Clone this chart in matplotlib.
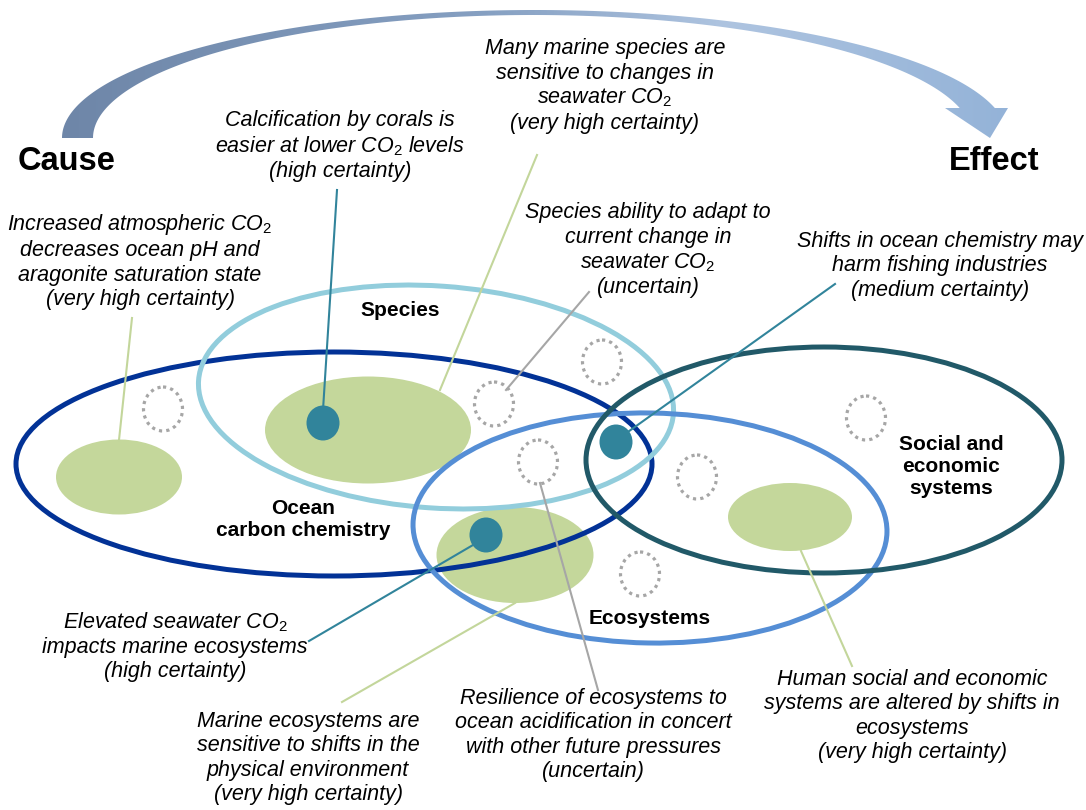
import numpy as np
import matplotlib.pyplot as plt
from matplotlib.patches import Ellipse, Polygon
from matplotlib.colors import LinearSegmentedColormap

plt.rcParams['font.family'] = ['Liberation Sans', 'DejaVu Sans']
plt.rcParams['mathtext.fontset'] = 'custom'
plt.rcParams['mathtext.rm'] = 'Liberation Sans'
plt.rcParams['mathtext.it'] = 'Liberation Sans:italic'

# domains (big outlined ellipses)
domain_names = ['Ocean\ncarbon chemistry', 'Species', 'Ecosystems',
                'Social and\neconomic\nsystems']
domain_xy = [(334, 464), (436, 397), (650, 528), (824, 460)]
domain_w = [636, 476, 474, 476]
domain_h = [224, 222, 230, 226]
domain_ang = [0, 4, 1, 0]
domain_col = ['#023296', '#92cddc', '#558ed5', '#215968']
label_xy = [(303, 520), (400, 311), (650, 618), (951, 466)]

# green "effect" blobs
blob_xy = [(119, 477), (368, 430), (515, 555), (790, 517)]
blob_w = [126, 206, 157, 124]
blob_h = [75, 107, 96, 68]

# teal dots (medium / high certainty hubs)
dot_xy = [(323, 423), (486, 535), (616, 442)]

# dotted circles (uncertain)
open_xy = [(163, 409), (494, 404), (602, 362), (538, 462), (697, 477),
           (640, 574), (866, 418)]

# annotations
notes = [
    'Many marine species are\nsensitive to changes in\nseawater CO$_2$\n(very high certainty)',
    'Calcification by corals is\neasier at lower CO$_2$ levels\n(high certainty)',
    'Increased atmospheric CO$_2$\ndecreases ocean pH and\naragonite saturation state\n(very high certainty)',
    'Species ability to adapt to\ncurrent change in\nseawater CO$_2$\n(uncertain)',
    'Shifts in ocean chemistry may\nharm fishing industries\n(medium certainty)',
    'Elevated seawater CO$_2$\nimpacts marine ecosystems\n(high certainty)',
    'Marine ecosystems are\nsensitive to shifts in the\nphysical environment\n(very high certainty)',
    'Resilience of ecosystems to\nocean acidification in concert\nwith other future pressures\n(uncertain)',
    'Human social and economic\nsystems are altered by shifts in\necosystems\n(very high certainty)',
]
note_xy = [(605, 86), (340, 146), (140, 261), (648, 250), (940, 266),
           (175, 646), (308, 758), (593, 735), (912, 716)]

# leader lines: start, end, colour
leaders = [
    ((119, 440), (132, 318), '#c3d69b'),
    ((323, 410), (337, 190), '#31849b'),
    ((440, 390), (537, 155), '#c3d69b'),
    ((506, 390), (589, 292), '#a6a6a6'),
    ((625, 434), (835, 284), '#31849b'),
    ((473, 545), (309, 641), '#31849b'),
    ((515, 603), (342, 702), '#c3d69b'),
    ((540, 483), (598, 690), '#a6a6a6'),
    ((801, 551), (852, 666), '#c3d69b'),
]

fig = plt.figure(figsize=(10.86, 8.10), dpi=100)
ax = fig.add_axes([0, 0, 1, 1])

# curved cause -> effect arrow
th_o = np.radians(np.linspace(180, np.degrees(np.arcsin(30 / 128)), 200))
outer = np.column_stack([535 + 473 * np.cos(th_o), 138 - 128 * np.sin(th_o)])
th_i = np.radians(np.linspace(np.degrees(np.arcsin(30 / 123)), 180, 200))
inner = np.column_stack([533 + 440 * np.cos(th_i), 138 - 123 * np.sin(th_i)])
head = np.array([[1008, 108], [990, 138], [945, 108]])
arrow = Polygon(np.vstack([outer, head, inner]), closed=True,
                facecolor='none', edgecolor='none')
ax.add_patch(arrow)
cmap = LinearSegmentedColormap.from_list(
    'arr', [(0, '#6e86a8'), (0.45, '#86a0c2'), (0.7, '#aec4e0'), (1, '#94b3d8')])
grad = np.linspace(0, 1, 400)[None, :]
im = ax.imshow(grad, cmap=cmap, extent=(60, 1010, 140, 0), aspect='auto', zorder=1)
im.set_clip_path(arrow)

ax.set_xlim(0, 1086)
ax.set_ylim(810, 0)
ax.axis('off')

for (x, y), w, h in zip(blob_xy, blob_w, blob_h):
    ax.add_patch(Ellipse((x, y), w, h, facecolor='#c4d79b', edgecolor='none', zorder=2))

for xy, w, h, a, c in zip(domain_xy, domain_w, domain_h, domain_ang, domain_col):
    ax.add_patch(Ellipse(xy, w, h, angle=a, fill=False, edgecolor=c, lw=3.6, zorder=3))

for xy in open_xy:
    ax.add_patch(Ellipse(xy, 39, 44, fill=False, edgecolor='#a6a6a6', lw=2.3,
                         linestyle=(0, (1.0, 1.3)), zorder=3))

for (x0, y0), (x1, y1), c in leaders:
    ax.plot([x0, x1], [y0, y1], color=c, lw=1.5, zorder=4)

for xy in dot_xy:
    ax.add_patch(Ellipse(xy, 33, 35, facecolor='#31849b', edgecolor='none', zorder=5))

for t, (x, y) in zip(notes, note_xy):
    ax.text(x, y, t, ha='center', va='center', multialignment='center',
            fontsize=15.5, style='italic', linespacing=1.2, zorder=6)

for t, (x, y) in zip(domain_names, label_xy):
    ax.text(x, y, t, ha='center', va='center', multialignment='center',
            fontsize=15, fontweight='bold', linespacing=1.2, zorder=6)

ax.text(67, 161, 'Cause', ha='center', va='center', fontsize=23.5, fontweight='bold')
ax.text(994, 161, 'Effect', ha='center', va='center', fontsize=23.5, fontweight='bold')

fig.savefig('out.png', dpi=100)
